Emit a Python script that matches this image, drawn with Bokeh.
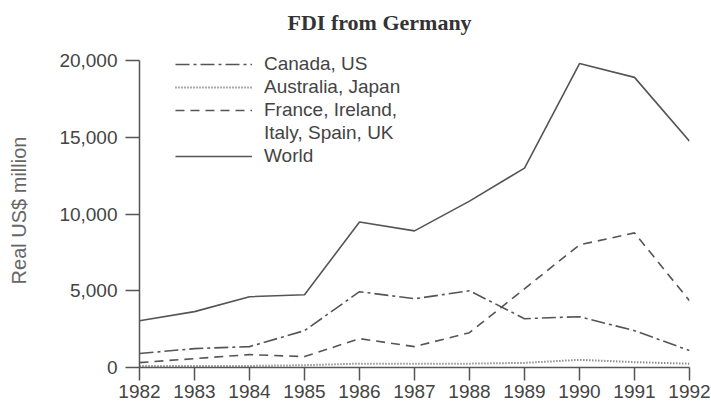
from bokeh.plotting import figure
from bokeh.models import (FixedTicker, NumeralTickFormatter, Legend, LegendItem, Range1d,
                          LinearAxis, Title)
from bokeh.embed import file_html
from bokeh.resources import INLINE

# ---- data ----
years = [1982, 1983, 1984, 1985, 1986, 1987, 1988, 1989, 1990, 1991, 1992]
canada_us = [910, 1230, 1360, 2400, 4940, 4480, 5000, 3180, 3310, 2400, 1100]
australia_japan = [100, 100, 100, 150, 250, 250, 250, 300, 500, 350, 250]
france_ireland_italy_spain_uk = [320, 580, 840, 710, 1880, 1360, 2270, 5130, 7990, 8770, 4350]
world = [3050, 3640, 4610, 4740, 9480, 8900, 10840, 12990, 19800, 18900, 14740]
y_ticks = [0, 5000, 10000, 15000, 20000]
title_text = "FDI from Germany"
y_label = "Real US$ million"
legend_labels = ["Canada, US", "Australia, Japan", "France, Ireland,", "Italy, Spain, UK", "World"]

LINE = "#555555"
TEXT = "#444444"

# layout: 0..20000 spans 307 px; frame is 314 px tall (a little headroom for the legend)
FRAME_H = 314
AXIS_H = 307
y_top = y_ticks[-1] * FRAME_H / AXIS_H

p = figure(width=711, height=408, output_backend="svg", toolbar_location=None,
           x_range=Range1d(years[0], years[-1]), y_range=Range1d(y_ticks[0], y_top),
           min_border_left=139, min_border_right=22, min_border_top=53, min_border_bottom=41)
p.title = None
p.outline_line_color = None
p.grid.visible = False
p.background_fill_color = "white"
p.border_fill_color = "white"

xax = p.below[0]
yax = p.left[0]

# invisible spacer axis between the frame and the title (lifts the title)
spacer_tick = years[5]
spacer = LinearAxis(ticker=FixedTicker(ticks=[spacer_tick]),
                    major_label_overrides={spacer_tick: ""},
                    major_tick_out=9, major_tick_in=0,
                    major_label_standoff=0, axis_line_color=None,
                    major_tick_line_color=None, minor_tick_line_color=None,
                    major_label_text_font_size="1px", major_label_text_alpha=0)
p.add_layout(spacer, "above")

title = Title(text=title_text, align="left", offset=148, vertical_align="top", standoff=16,
              text_font="Liberation Serif", text_font_style="bold",
              text_font_size="22px", text_color="#333333")
p.add_layout(title, "above")

r_world = p.line(years, world, line_color=LINE, line_width=1.6)
r_ca = p.line(years, canada_us, line_color=LINE, line_width=1.6, line_dash="14 4 3 4")
r_au = p.line(years, australia_japan, line_color=LINE, line_width=2, line_dash="1 2")
r_fr = p.line(years, france_ireland_italy_spain_uk, line_color=LINE, line_width=1.6, line_dash="9 6")
r_blank = p.line(x=[], y=[], line_alpha=0)

legend = Legend(items=[
    LegendItem(label=legend_labels[0], renderers=[r_ca]),
    LegendItem(label=legend_labels[1], renderers=[r_au]),
    LegendItem(label=legend_labels[2], renderers=[r_fr]),
    LegendItem(label=legend_labels[3], renderers=[r_blank]),
    LegendItem(label=legend_labels[4], renderers=[r_world]),
], location=(36, 200), border_line_color=None, background_fill_alpha=0,
    padding=0, margin=0, spacing=1, glyph_width=77, glyph_height=22,
    label_height=22, label_standoff=12, label_text_font="Liberation Sans",
    label_text_font_size="19px", label_text_color=TEXT)
p.add_layout(legend)

yax.ticker = FixedTicker(ticks=y_ticks)
yax.bounds = (y_ticks[0], y_ticks[-1])
yax.formatter = NumeralTickFormatter(format="0,0")
xax.ticker = FixedTicker(ticks=years)
for ax in (xax, yax):
    ax.minor_tick_line_color = None
    ax.major_tick_in = 0
    ax.major_label_text_font = "Liberation Sans"
    ax.major_label_text_font_size = "19px"
    ax.major_label_text_color = TEXT
    ax.axis_line_color = LINE
    ax.axis_line_width = 1.5
    ax.major_tick_line_color = LINE
    ax.major_tick_line_width = 1.5
yax.major_tick_out = 14
xax.major_tick_out = 13
yax.major_label_standoff = 8
xax.major_label_standoff = 4
yax.axis_label = y_label
yax.axis_label_text_font = "Liberation Sans"
yax.axis_label_text_font_style = "normal"
yax.axis_label_text_font_size = "20px"
yax.axis_label_text_color = "#666666"
yax.axis_label_standoff = 26

open("out.html", "w").write(file_html(p, INLINE))
